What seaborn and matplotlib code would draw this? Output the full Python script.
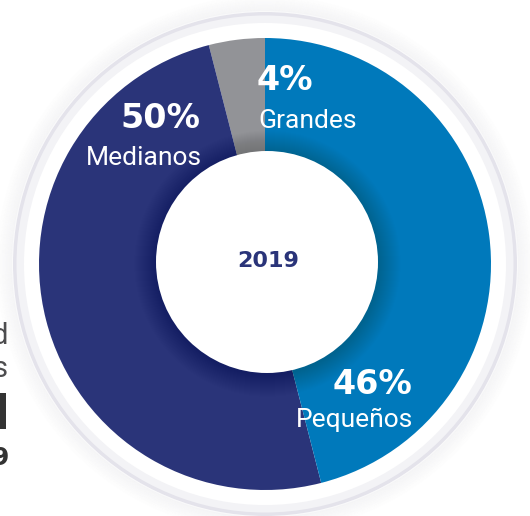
import matplotlib
matplotlib.use("Agg")
import matplotlib.pyplot as plt
from matplotlib.patches import Circle
import seaborn as sns

# Company size distribution, 2019
categories = ["Grandes", "Medianos", "Pequeños"]
shares = [4, 50, 46]
year_label = "2019"
colors = ["#929397", "#2A3479", "#0079BB"]

sns.set_theme(style="white")
plt.rcParams["font.family"] = ["Roboto", "DejaVu Sans"]
HEAVY = ["DejaVu Sans"]

W, H = 530, 516
fig = plt.figure(figsize=(W / 100, H / 100), dpi=100)
ax = fig.add_axes([0, 0, 1, 1])

cx, cy, R = 265, 516 - 264, 226

# soft halo and frame rings behind the donut
for i in range(16):
    r = 253 + i
    ax.add_patch(Circle((cx, cy), r, facecolor="none",
                        edgecolor=(0.55, 0.55, 0.62, 0.05 * (1 - i / 16)),
                        linewidth=1.2, zorder=0))
ax.add_patch(Circle((cx, cy), 252, facecolor="#E4E3EB", edgecolor="none", zorder=1))
ax.add_patch(Circle((cx, cy), 248.5, facecolor="#F3F3F6", edgecolor="none", zorder=1))
ax.add_patch(Circle((cx, cy), 241, facecolor="#FFFFFF", edgecolor="none", zorder=1))

wedges, _ = ax.pie(shares, colors=colors, startangle=90, counterclock=True,
                   center=(cx, cy), radius=R,
                   wedgeprops=dict(linewidth=0))
for w in wedges:
    w.set_zorder(2)

# gentle shading around the central hole
icx, icy, ir = 267, 516 - 262, 111
for i in range(22):
    ax.add_patch(Circle((icx + 0.5, icy - 1.5), ir + 22 - i, facecolor=(0, 0, 0, 0.006),
                        edgecolor="none", zorder=3))
ax.add_patch(Circle((icx, icy), ir, facecolor="white", edgecolor="none", zorder=4))

ax.text(icx + 1, icy + 1, year_label, ha="center", va="center", fontsize=16,
        fontweight="bold", family=HEAVY, color="#2A3479", zorder=5)

# slice labels: percentage on top, category name below
label_pos = {
    "Grandes": ((285, 80), (308, 121)),
    "Medianos": ((160, 119), (144, 158)),
    "Pequeños": ((372, 384), (354, 420)),
}
for cat, val in zip(categories, shares):
    (px, py), (nx, ny) = label_pos[cat]
    ax.text(px, H - py, f"{val}%", ha="center", va="center", fontsize=24,
            fontweight="bold", family=HEAVY, color="white", zorder=6)
    ax.text(nx, H - ny, cat, ha="center", va="center", fontsize=19,
            fontweight="normal", color="white", zorder=6)

# fragments of the neighbouring panel at the left edge
ax.text(8, H - 336, "d", ha="right", va="center", fontsize=21,
        color="#4D4D4F", zorder=6)
ax.text(8, H - 369, "s", ha="right", va="center", fontsize=21,
        color="#4D4D4F", zorder=6)
ax.text(10, H - 415, "I", ha="right", va="center", fontsize=36,
        fontweight="bold", family=HEAVY, color="#333333", zorder=6)
ax.text(9, H - 458, "9", ha="right", va="center", fontsize=18,
        fontweight="bold", family=HEAVY, color="#333333", zorder=6)

ax.set_xlim(0, W)
ax.set_ylim(0, H)
ax.set_aspect("equal")
ax.axis("off")

fig.savefig("out.png", dpi=100, facecolor="white")
